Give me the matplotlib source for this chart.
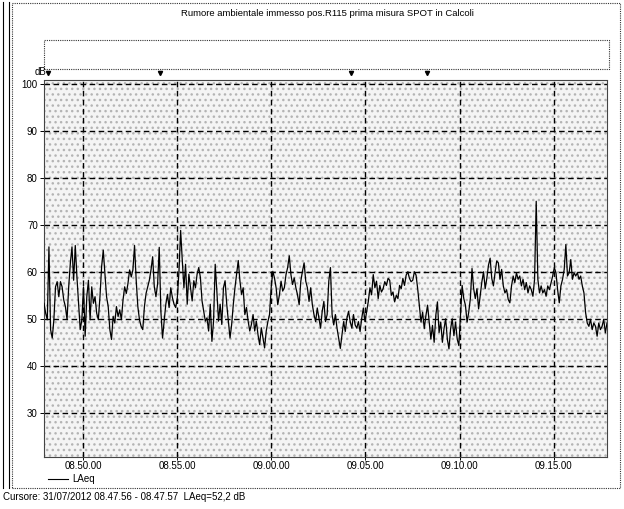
import numpy as np
import pandas as pd
import matplotlib
matplotlib.use("Agg")
import matplotlib.pyplot as plt
import matplotlib.dates as mdates
from matplotlib.lines import Line2D
from matplotlib.patches import Rectangle
import matplotlib.transforms as mtransforms

plt.rcParams['font.family'] = ['Liberation Sans', 'DejaVu Sans']

title = "Rumore ambientale immesso pos.R115 prima misura SPOT in Calcoli"
cursor_text = "Cursore: 31/07/2012 08.47.56 - 08.47.57  LAeq=52,2 dB"
series_name = "LAeq"

t_start = "2012-07-31 08:47:56"
t_end = "2012-07-31 09:17:50"

# LAeq readings (dB)
laeq_0848_0854 = [53.3, 51.2, 49.8, 65.3, 47.7, 45.9, 49.8, 56.8, 57.9, 54.7, 57.9, 56.8, 54.0, 52.6,
                  49.8, 56.8, 61.8, 65.3, 58.2, 65.6, 58.9, 53.3, 47.7, 49.8, 56.8, 46.3, 54.7, 58.2,
                  49.8, 56.8, 53.3, 54.7, 51.2, 49.8, 54.7, 61.1, 64.6, 59.6, 54.7, 52.6, 47.7, 45.6,
                  50.5, 49.1, 52.6, 50.5, 51.9, 49.8, 54.0, 56.8, 55.4, 57.5, 60.4, 58.9, 60.4, 65.6,
                  58.2, 52.6, 49.8, 48.4, 47.7, 52.6, 55.4, 56.8, 58.2, 60.4, 63.2, 56.8, 54.7]
laeq_0854_0900 = [57.4, 65.2, 51.6, 45.9, 49.5, 53.1, 55.2, 52.4, 56.6, 54.5, 53.1, 52.4, 54.5, 60.2,
                  68.8, 62.4, 56.6, 61.6, 53.1, 59.5, 56.6, 53.8, 58.1, 56.6, 59.5, 60.9, 58.8, 53.8,
                  51.6, 49.5, 50.2, 47.4, 53.1, 45.2, 49.5, 61.6, 55.9, 49.5, 53.1, 48.8, 56.6, 58.1,
                  53.1, 49.5, 45.9, 48.8, 53.1, 56.6, 59.5, 62.4, 58.1, 55.2, 56.6, 50.9, 52.4, 49.5,
                  47.4, 48.8, 50.9, 47.4, 49.5, 46.6, 44.5, 48.1, 45.9, 43.8, 47.4]
laeq_0900_0906 = [49.4, 50.9, 56.6, 60.1, 58.7, 56.6, 53.0, 55.1, 58.0, 55.9, 56.6, 59.4, 60.9, 63.4,
                  59.4, 57.3, 58.7, 56.6, 55.1, 53.0, 58.0, 60.1, 61.9, 58.0, 56.6, 53.7, 56.6, 53.0,
                  50.9, 49.4, 52.3, 50.1, 48.0, 51.6, 53.7, 49.4, 50.9, 58.0, 60.9, 50.9, 48.7, 50.9,
                  48.0, 45.9, 43.7, 46.6, 49.4, 47.3, 50.1, 51.6, 49.4, 48.0, 50.9, 48.7, 48.0, 49.4,
                  47.3, 50.1, 52.3, 49.4, 51.6, 53.7, 56.6, 55.1, 59.4, 56.6, 58.0]
laeq_0906_0912 = [54.3, 57.1, 55.7, 56.4, 57.9, 57.1, 58.6, 58.2, 55.0, 55.7, 53.6, 55.0, 54.3, 57.1,
                  56.4, 58.6, 57.1, 59.3, 60.0, 58.6, 57.9, 58.2, 60.0, 59.3, 56.4, 52.9, 49.3, 51.4,
                  47.9, 50.7, 52.9, 49.3, 45.7, 48.6, 45.0, 50.7, 53.6, 47.1, 49.3, 45.0, 47.9, 50.0,
                  45.7, 43.6, 47.9, 50.0, 46.4, 49.3, 45.7, 44.3, 50.7, 57.1, 54.3, 52.9, 49.3, 51.4,
                  54.3, 60.7, 56.4, 54.3, 56.4, 52.1, 55.0, 57.9, 60.0, 56.4, 58.6, 61.4, 62.9, 58.6]
laeq_0912_0918 = [57.0, 59.8, 62.3, 61.9, 58.4, 60.5, 57.0, 55.5, 56.2, 54.1, 53.4, 57.0, 59.1, 57.7,
                  59.8, 58.4, 59.1, 57.0, 58.4, 56.2, 57.7, 55.5, 57.0, 56.2, 54.8, 58.4, 75.0, 58.4,
                  55.5, 57.0, 55.5, 56.2, 54.8, 57.0, 56.2, 57.7, 59.1, 60.9, 59.8, 56.2, 53.4, 57.0,
                  58.4, 60.5, 65.8, 59.1, 59.8, 62.6, 58.4, 59.8, 59.1, 59.8, 58.4, 59.1, 57.0, 55.5,
                  51.3, 49.1, 48.4, 49.9, 47.7, 49.1, 48.4, 46.3, 49.1, 47.7, 48.4, 49.9, 47.0, 49.1]

marker_times = ["2012-07-31 08:48:09", "2012-07-31 08:54:05",
                "2012-07-31 09:04:15", "2012-07-31 09:08:18"]
y_ticks = [30, 40, 50, 60, 70, 80, 90, 100]

laeq = laeq_0848_0854 + laeq_0854_0900 + laeq_0900_0906 + laeq_0906_0912 + laeq_0912_0918
times = pd.date_range(t_start, t_end, periods=len(laeq))

W, H = 624, 509
fig = plt.figure(figsize=(W / 100, H / 100), dpi=100)
fig.patch.set_facecolor('white')

def fx(px):
    return px / W

def fy(py):
    return 1 - py / H

ax = fig.add_axes([fx(44), fy(457), fx(607) - fx(44), fy(80) - fy(457)])
ax.set_facecolor('#f4f4f4')
# stippled background like the scanned print
ax.add_patch(Rectangle((0, 0), 1, 1, transform=ax.transAxes, facecolor='none',
                       edgecolor='#b4b4b4', hatch='...', lw=0, zorder=0))

ax.plot(times, laeq, color='black', lw=0.9, zorder=3)

ax.set_xlim(pd.Timestamp(t_start), pd.Timestamp("2012-07-31 09:17:50"))
ax.set_ylim(20.6, 100.8)
ax.set_yticks(y_ticks)
ax.xaxis.set_major_locator(mdates.MinuteLocator(byminute=range(0, 60, 5)))
ax.xaxis.set_major_formatter(mdates.DateFormatter('%H.%M.%S'))
ax.tick_params(axis='both', labelsize=7, length=3, width=0.7, direction='out', pad=1.5)
ax.tick_params(axis='x', length=2, pad=1)
ax.grid(True, color='black', linestyle=(0, (4, 2.5)), linewidth=1.0, zorder=2)
for s in ax.spines.values():
    s.set_color('#444444')
    s.set_linewidth(0.8)
    s.set_linestyle((0, (1, 1)))

# cursor markers above the plot
trans = mtransforms.blended_transform_factory(ax.transData, ax.transAxes)
ax.plot(pd.to_datetime(marker_times), [1.018] * len(marker_times), 'v', color='black',
        markersize=3, transform=trans, clip_on=False)

fig.text(fx(46), fy(72), "dB", fontsize=7, va='center', ha='right')
fig.text(fx(327), fy(13), title, fontsize=6.8, ha='center', va='center')

# empty legend box above the plot
fig.add_artist(Rectangle((fx(44), fy(69)), fx(609) - fx(44), fy(40) - fy(69),
                         transform=fig.transFigure, facecolor='white', edgecolor='#333333',
                         lw=0.8, ls=(0, (1, 1))))

# legend under the plot
fig.add_artist(Line2D([fx(48), fx(68)], [fy(479), fy(479)], color='black', lw=0.8))
fig.text(fx(72), fy(479), series_name, fontsize=7, va='center', ha='left')
fig.text(fx(3), fy(497), cursor_text, fontsize=7, va='center', ha='left')

# outer frame
fig.add_artist(Line2D([fx(3), fx(3)], [fy(2), fy(488)], color='black', lw=0.8))
fig.add_artist(Line2D([fx(9), fx(9)], [fy(2), fy(488)], color='black', lw=0.8))
fig.add_artist(Rectangle((fx(12), fy(488)), fx(620) - fx(12), fy(3) - fy(488),
                         transform=fig.transFigure, facecolor='none', edgecolor='#333333',
                         lw=0.8, ls=(0, (1, 1))))

fig.savefig("out.png", dpi=100)
